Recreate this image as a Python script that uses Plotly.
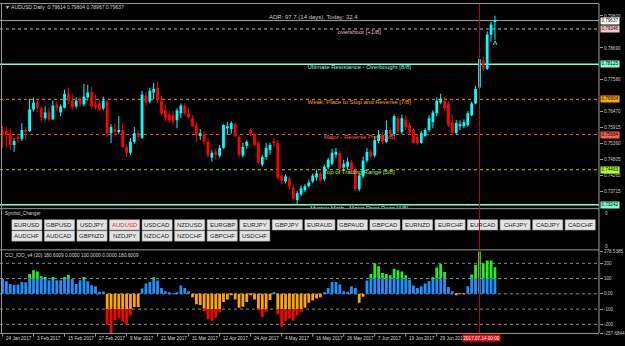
import plotly.graph_objects as go

# ---------------- data ----------------
opens = [0.7580, 0.7580, 0.7573, 0.7532, 0.7560, 0.7553, 0.7584, 0.7580, 0.7655, 0.7679,
         0.7659, 0.7625, 0.7645, 0.7621, 0.7673, 0.7645, 0.7662, 0.7710, 0.7686, 0.7666,
         0.7690, 0.7673, 0.7697, 0.7717, 0.7673, 0.7676, 0.7659, 0.7683, 0.7573, 0.7587,
         0.7577, 0.7584, 0.7525, 0.7505, 0.7543, 0.7573, 0.7556, 0.7703, 0.7683, 0.7714,
         0.7731, 0.7686, 0.7652, 0.7638, 0.7635, 0.7618, 0.7642, 0.7669, 0.7642, 0.7625,
         0.7601, 0.7563, 0.7570, 0.7543, 0.7488, 0.7508, 0.7495, 0.7522, 0.7590, 0.7587,
         0.7604, 0.7560, 0.7495, 0.7529, 0.7584, 0.7570, 0.7539, 0.7464, 0.7491, 0.7515,
         0.7546, 0.7539, 0.7426, 0.7406, 0.7416, 0.7385, 0.7341, 0.7361, 0.7375, 0.7389,
         0.7406, 0.7419, 0.7433, 0.7413, 0.7454, 0.7467, 0.7498, 0.7505, 0.7454, 0.7457,
         0.7474, 0.7447, 0.7378, 0.7423, 0.7478, 0.7508, 0.7495, 0.7546, 0.7567, 0.7543,
         0.7584, 0.7570, 0.7625, 0.7577, 0.7621, 0.7601, 0.7584, 0.7560, 0.7539, 0.7563,
         0.7584, 0.7611, 0.7642, 0.7679, 0.7686, 0.7676, 0.7611, 0.7573, 0.7597, 0.7597,
         0.7601, 0.7635, 0.7676, 0.7731, 0.7826, 0.7796, 0.7915, 0.79614]
highs = [0.7597, 0.7594, 0.7590, 0.7556, 0.7573, 0.7608, 0.7594, 0.7693, 0.7697, 0.7690,
         0.7669, 0.7666, 0.7662, 0.7686, 0.7683, 0.7673, 0.7724, 0.7731, 0.7710, 0.7697,
         0.7700, 0.7744, 0.7741, 0.7734, 0.7707, 0.7690, 0.7700, 0.7690, 0.7604, 0.7608,
         0.7632, 0.7608, 0.7532, 0.7556, 0.7594, 0.7584, 0.7720, 0.7717, 0.7731, 0.7748,
         0.7751, 0.7703, 0.7673, 0.7649, 0.7649, 0.7659, 0.7676, 0.7676, 0.7662, 0.7635,
         0.7611, 0.7587, 0.7580, 0.7556, 0.7515, 0.7519, 0.7532, 0.7604, 0.7611, 0.7614,
         0.7611, 0.7567, 0.7539, 0.7549, 0.7590, 0.7573, 0.7546, 0.7498, 0.7539, 0.7540,
         0.7556, 0.7549, 0.7433, 0.7430, 0.7423, 0.7392, 0.7372, 0.7392, 0.7396, 0.7412,
         0.7433, 0.7447, 0.7440, 0.7464, 0.7488, 0.7519, 0.7522, 0.7512, 0.7481, 0.7488,
         0.7481, 0.7457, 0.7433, 0.7491, 0.7522, 0.7519, 0.7563, 0.7584, 0.7577, 0.7618,
         0.7594, 0.7638, 0.7632, 0.7638, 0.7635, 0.7611, 0.7590, 0.7570, 0.7580, 0.7590,
         0.7635, 0.7652, 0.7697, 0.7710, 0.7700, 0.7683, 0.7638, 0.7618, 0.7618, 0.7621,
         0.7649, 0.7683, 0.7738, 0.7833, 0.7840, 0.7926, 0.7960, 0.79804]
lows = [0.7522, 0.7525, 0.7515, 0.7508, 0.7539, 0.7546, 0.7549, 0.7577, 0.7649, 0.7645,
        0.7611, 0.7618, 0.7614, 0.7618, 0.7649, 0.7632, 0.7659, 0.7673, 0.7652, 0.7659,
        0.7666, 0.7666, 0.7686, 0.7659, 0.7655, 0.7649, 0.7652, 0.7560, 0.7539, 0.7560,
        0.7570, 0.7522, 0.7491, 0.7498, 0.7536, 0.7546, 0.7553, 0.7669, 0.7676, 0.7690,
        0.7679, 0.7635, 0.7614, 0.7608, 0.7601, 0.7590, 0.7625, 0.7635, 0.7621, 0.7594,
        0.7543, 0.7549, 0.7532, 0.7488, 0.7474, 0.7481, 0.7488, 0.7519, 0.7567, 0.7570,
        0.7560, 0.7488, 0.7488, 0.7519, 0.7563, 0.7529, 0.7464, 0.7457, 0.7481, 0.7498,
        0.7525, 0.7412, 0.7395, 0.7399, 0.7378, 0.7339, 0.7324, 0.7354, 0.7368, 0.7385,
        0.7399, 0.7409, 0.7402, 0.7406, 0.7447, 0.7461, 0.7488, 0.7443, 0.7443, 0.7447,
        0.7437, 0.7372, 0.7372, 0.7416, 0.7471, 0.7481, 0.7488, 0.7539, 0.7536, 0.7539,
        0.7560, 0.7563, 0.7573, 0.7570, 0.7584, 0.7567, 0.7536, 0.7532, 0.7536, 0.7560,
        0.7577, 0.7590, 0.7632, 0.7673, 0.7652, 0.7594, 0.7567, 0.7567, 0.7584, 0.7590,
        0.7594, 0.7632, 0.7673, 0.7724, 0.7789, 0.7792, 0.7891, 0.78967]
closes = [0.7570, 0.7567, 0.7532, 0.7546, 0.7553, 0.7584, 0.7577, 0.7655, 0.7679, 0.7662,
          0.7628, 0.7645, 0.7621, 0.7669, 0.7659, 0.7666, 0.7710, 0.7686, 0.7662, 0.7686,
          0.7676, 0.7700, 0.7714, 0.7666, 0.7662, 0.7655, 0.7686, 0.7573, 0.7594, 0.7577,
          0.7584, 0.7525, 0.7505, 0.7543, 0.7573, 0.7560, 0.7707, 0.7679, 0.7720, 0.7727,
          0.7686, 0.7642, 0.7625, 0.7618, 0.7614, 0.7652, 0.7669, 0.7642, 0.7628, 0.7597,
          0.7567, 0.7573, 0.7543, 0.7495, 0.7505, 0.7498, 0.7522, 0.7601, 0.7597, 0.7608,
          0.7563, 0.7498, 0.7525, 0.7543, 0.7570, 0.7532, 0.7471, 0.7491, 0.7522, 0.7532,
          0.7539, 0.7419, 0.7409, 0.7423, 0.7389, 0.7345, 0.7365, 0.7382, 0.7389, 0.7402,
          0.7426, 0.7433, 0.7409, 0.7457, 0.7481, 0.7505, 0.7508, 0.7450, 0.7467, 0.7474,
          0.7447, 0.7378, 0.7426, 0.7478, 0.7508, 0.7491, 0.7549, 0.7567, 0.7543, 0.7584,
          0.7570, 0.7632, 0.7580, 0.7625, 0.7594, 0.7577, 0.7539, 0.7539, 0.7573, 0.7584,
          0.7625, 0.7645, 0.7686, 0.7693, 0.7659, 0.7601, 0.7573, 0.7608, 0.7604, 0.7611,
          0.7642, 0.7676, 0.7727, 0.7830, 0.7796, 0.7915, 0.7950, 0.79637]
cci = [97, 82, 65, 60, 60, 78, 76, 130, 154, 147,
       115, 110, 89, 110, 89, 89, 110, 125, 97, 65,
       89, 110, 82, 56, 50, 13, 15, -203, -257.6844, -173,
       -156, -182, -203, -139, -87, -87, 35, 67, 78, 108,
       87, 39, 17, 4, 3, 11, 54, 39, 17, -22,
       -69, -74, -112, -166, -177, -156, -123, -54, -37, -9,
       -37, -91, -84, -54, -6, -37, -106, -152, -117, -41,
       11, -134, -216, -177, -162, -177, -139, -119, -91, -58,
       -43, -30, -22, 6, 39, 78, 78, 61, 17, 13,
       50, 39, -58, -19, 87, 130, 201, 180, 136, 130,
       121, 165, 154, 147, 121, 93, 54, 39, 50, 67,
       82, 108, 173, 195, 143, 45, 17, -4, -2, -3,
       50, 126, 190, 278.5385, 201, 219, 219, 175]

date_idx = [0, 8, 16, 24, 32, 40, 48, 56, 64, 72, 80, 88, 96, 104, 112]
date_labels = ["24 Jan 2017", "3 Feb 2017", "15 Feb 2017", "27 Feb 2017", "9 Mar 2017",
               "21 Mar 2017", "31 Mar 2017", "12 Apr 2017", "24 Apr 2017", "4 May 2017",
               "16 May 2017", "26 May 2017", "7 Jun 2017", "19 Jun 2017", "29 Jun 2017"]
cursor_idx = 123
cursor_label = "2017.07.14 00:00"

price_ticks = [0.79800, 0.78690, 0.77580, 0.76470, 0.75915, 0.75360, 0.74805, 0.74265, 0.73715]
cci_ticks = [278.5385, 200, 100, 0, -100, -200, -257.6844]
cci_ticktext = ["278.5385", "200", "100", "0.00", "-100", "-200", "-257.6844"]
cci_levels = [200, 100, 0, -100, -200]

current_price = 0.79637
murrey_levels = [0.79346, 0.78125, 0.76904, 0.75684, 0.74463, 0.73242]
murrey_names = ["overshoot [+1/8]", "Ultimate Resistance - Overbought [8/8]",
                "Weak, Place to Stop and Reverse [7/8]", "Major - Reverse Pivot [6/8]",
                "Top of Trading Range [5/8]", "Murrey Math - Major Pivot Point [4/8]"]
murrey_line_colors = ["#CDB5B8", "#7FFFD4", "#FF8C00", "#F04A2A", "#9ACD32", "#7FFFD4"]
murrey_text_colors = ["#F2B8C6", "#7FFFD4", "#FFA500", "#FF6347", "#ADFF2F", "#7FFFD4"]
murrey_box_colors = ["#FFC0CB", "#7FFFD4", "#FFA500", "#FF6347", "#ADFF2F", "#7FFFD4"]
murrey_dash = ["dot", "solid", "dot", "dot", "dot", "solid"]

row1 = ["EURUSD", "GBPUSD", "USDJPY", "AUDUSD", "USDCAD", "NZDUSD", "EURGBP", "EURJPY", "GBPJPY",
        "EURAUD", "GBPAUD", "GBPCAD", "EURNZD", "EURCHF", "EURCAD", "CHFJPY", "CADJPY", "CADCHF"]
row2 = ["AUDCHF", "AUDCAD", "GBPNZD", "NZDJPY", "NZDCAD", "NZDCHF", "GBPCHF", "USDCHF"]
active_symbol = "AUDUSD"

title_text = "AUDUSD,Daily  0.79614 0.79804 0.78967 0.79637"
adr_text = "ADR: 97.7 (14 days), Today: 32.4"
cci_title = "CCI_IOO_v4 (20) 180.6009 0.0000 100.0000 0.0000 180.6009"

# ---------------- layout helpers ----------------
W, H = 625, 346
PW = 604  # plot area width in px
PX_PER_BAR = 3.91
X0_PX = 2.5
FONT = "Liberation Sans, Arial, sans-serif"


def px(xp):
    return xp / PW


def py(yp):
    return 1 - yp / H


PRICE_PER_PX = 0.000342
PRICE_AT_0 = 0.80282
main_top_px, main_bot_px = 2, 209
y_range = [PRICE_AT_0 - PRICE_PER_PX * main_bot_px, PRICE_AT_0 - PRICE_PER_PX * main_top_px]
x_range = [(0 - X0_PX) / PX_PER_BAR, (PW - X0_PX) / PX_PER_BAR]

idx = list(range(len(opens)))

fig = go.Figure()

# candle bodies
bases = [min(o, c) for o, c in zip(opens, closes)]
heights = [max(abs(c - o), 0.00008) for o, c in zip(opens, closes)]
body_colors = ["#00FFFF" if c >= o else "#FF0000" for o, c in zip(opens, closes)]

# wicks
wx_up, wy_up, wx_dn, wy_dn = [], [], [], []
for i, o, h, l, c in zip(idx, opens, highs, lows, closes):
    if c >= o:
        wx_up += [i, i, None]
        wy_up += [l, h, None]
    else:
        wx_dn += [i, i, None]
        wy_dn += [l, h, None]

fig.add_trace(go.Scatter(x=wx_up, y=wy_up, mode="lines", line=dict(color="#00FFFF", width=1),
                         xaxis="x", yaxis="y", hoverinfo="skip"))
fig.add_trace(go.Scatter(x=wx_dn, y=wy_dn, mode="lines", line=dict(color="#FF0000", width=1),
                         xaxis="x", yaxis="y", hoverinfo="skip"))
fig.add_trace(go.Bar(x=idx, y=heights, base=bases, width=0.72, marker=dict(color=body_colors, line=dict(width=0)),
                     xaxis="x", yaxis="y"))

# level labels (clipped to plot area)
label_x = [92] * len(murrey_levels)
label_y = [v - 0.0011 for v in murrey_levels]
label_y[-1] = murrey_levels[-1] - 0.00115
fig.add_trace(go.Scatter(x=label_x, y=label_y, mode="text", text=murrey_names,
                         textfont=dict(family=FONT, size=6, color=murrey_text_colors),
                         textposition="middle center", cliponaxis=True,
                         xaxis="x", yaxis="y", hoverinfo="skip"))

# CCI histogram
blue = [min(v, 100) if v > 0 else 0 for v in cci]
green = [v - 100 if v > 100 else 0 for v in cci]
orange = [max(v, -100) if v < 0 else 0 for v in cci]
red = [v + 100 if v < -100 else 0 for v in cci]
fig.add_trace(go.Bar(x=idx, y=blue, width=0.72, marker=dict(color="#1E90FF", line=dict(width=0)),
                     xaxis="x2", yaxis="y2"))
fig.add_trace(go.Bar(x=idx, y=green, base=[100] * len(cci), width=0.72,
                     marker=dict(color="#22EE22", line=dict(width=0)), xaxis="x2", yaxis="y2"))
fig.add_trace(go.Bar(x=idx, y=orange, width=0.72, marker=dict(color="#FFA500", line=dict(width=0)),
                     xaxis="x2", yaxis="y2"))
fig.add_trace(go.Bar(x=idx, y=red, base=[-100] * len(cci), width=0.72,
                     marker=dict(color="#FF0000", line=dict(width=0)), xaxis="x2", yaxis="y2"))

shapes = []
GRAY = "#9A9A9A"
# murrey lines
for v, col, d in zip(murrey_levels, murrey_line_colors, murrey_dash):
    shapes.append(dict(type="line", xref="paper", yref="y", x0=0, x1=1, y0=v, y1=v,
                       line=dict(color=col, width=1.5 if d == "solid" else 1, dash=d), layer="below"))
# current price line
shapes.append(dict(type="line", xref="paper", yref="y", x0=0, x1=1, y0=current_price, y1=current_price,
                   line=dict(color="#A8A8A8", width=1), layer="below"))
# CCI dotted levels
for v in cci_levels:
    shapes.append(dict(type="line", xref="paper", yref="y2", x0=0, x1=1, y0=v, y1=v,
                       line=dict(color="#8C8C8C", width=1, dash="dot"), layer="below"))
# frame lines
for (x0, y0, x1, y1) in [(1.5, 2, 1.5, 336), (0, 1.5, PW, 1.5), (PW, 1.5, PW, 336),
                         (0, 209.7, PW, 209.7), (0, 251.5, PW, 251.5), (0, 336.3, PW, 336.3)]:
    shapes.append(dict(type="line", xref="paper", yref="paper", x0=px(x0), x1=px(x1), y0=py(y0), y1=py(y1),
                       line=dict(color=GRAY, width=1)))
# buttons
annotations = []
for row, top in [(row1, 221.0), (row2, 232.3)]:
    for k, sym in enumerate(row):
        bx = 12 + k * 32.82
        shapes.append(dict(type="rect", xref="paper", yref="paper", x0=px(bx), x1=px(bx + 30.3),
                           y0=py(top + 10.3), y1=py(top), fillcolor="#E3E3E3",
                           line=dict(color="#B8B8B8", width=0.6)))
        annotations.append(dict(xref="paper", yref="paper", x=px(bx + 15.15), y=py(top + 5.3), text=sym,
                                showarrow=False, xanchor="center", yanchor="middle",
                                font=dict(family=FONT, size=6, color="#FF2020" if sym == active_symbol else "#1A1A1A")))
# date ticks
for d in date_idx:
    shapes.append(dict(type="line", xref="x2", yref="paper", x0=d, x1=d, y0=py(336.5), y1=py(339.5),
                       line=dict(color=GRAY, width=1)))
# red cursor line
shapes.append(dict(type="line", xref="x", yref="paper", x0=cursor_idx, x1=cursor_idx, y0=py(336), y1=py(2),
                   line=dict(color="#B01010", width=1)))

# texts
TXT = "#D8D8D8"
annotations.append(dict(xref="paper", yref="paper", x=px(3), y=py(5.2), text="▼ " + title_text,
                        showarrow=False, xanchor="left", yanchor="middle",
                        font=dict(family=FONT, size=5, color=TXT)))
annotations.append(dict(xref="paper", yref="paper", x=px(316), y=py(15.3), text=adr_text,
                        showarrow=False, xanchor="center", yanchor="middle",
                        font=dict(family=FONT, size=6, color="#C8C8C8")))
annotations.append(dict(xref="paper", yref="paper", x=px(499.5), y=py(41.5), text="Λ",
                        showarrow=False, xanchor="center", yanchor="middle",
                        font=dict(family="DejaVu Sans", size=6, color="#FFFFFF")))
annotations.append(dict(xref="paper", yref="paper", x=px(3), y=py(215), text="Symbol_Changer",
                        showarrow=False, xanchor="left", yanchor="middle",
                        font=dict(family=FONT, size=4.6, color=TXT)))
annotations.append(dict(xref="paper", yref="paper", x=px(3), y=py(257), text=cci_title,
                        showarrow=False, xanchor="left", yanchor="middle",
                        font=dict(family=FONT, size=4.8, color=TXT)))
for yy in (215, 248):
    annotations.append(dict(xref="paper", yref="paper", x=px(608), y=py(yy), text="0",
                            showarrow=False, xanchor="left", yanchor="middle",
                            font=dict(family=FONT, size=4.6, color=TXT)))
# right-side highlighted price boxes
boxes = [(current_price, "#FFFFFF")] + list(zip(murrey_levels, murrey_box_colors))
for v, bg in boxes:
    annotations.append(dict(xref="paper", yref="y", x=px(605.5), y=v, text=f"{v:.5f}",
                            showarrow=False, xanchor="left", yanchor="middle", bgcolor=bg,
                            borderpad=0.4, font=dict(family=FONT, size=4.6, color="#000000")))
# date labels
for d, t in zip(date_idx, date_labels):
    annotations.append(dict(xref="x2", yref="paper", x=d + 0.3, y=py(341.3), text=t,
                            showarrow=False, xanchor="left", yanchor="middle",
                            font=dict(family=FONT, size=4.6, color=TXT)))
annotations.append(dict(xref="x2", yref="paper", x=cursor_idx + 0.6, y=py(341.3), text=cursor_label,
                        showarrow=False, xanchor="center", yanchor="middle", bgcolor="#E01010",
                        borderpad=0.5, font=dict(family=FONT, size=4.6, color="#FFFFFF")))

fig.update_layout(
    width=W, height=H, autosize=False,
    margin=dict(l=0, r=W - PW, t=0, b=0, pad=0),
    paper_bgcolor="#000000", plot_bgcolor="#000000",
    showlegend=False, barmode="overlay", hovermode=False,
    xaxis=dict(domain=[0, 1], range=x_range, visible=False, fixedrange=True),
    yaxis=dict(domain=[py(main_bot_px), py(main_top_px)], range=y_range, side="right",
               tickvals=price_ticks, ticktext=[f"{v:.5f}" for v in price_ticks],
               ticks="outside", ticklen=3, tickcolor=GRAY, showgrid=False, zeroline=False,
               showline=False, tickfont=dict(family=FONT, size=4.6, color="#C8C8C8")),
    xaxis2=dict(domain=[0, 1], range=x_range, visible=False, anchor="y2", fixedrange=True),
    yaxis2=dict(domain=[py(336), py(253)], range=[-257.6844, 278.5385], side="right", anchor="x2",
                tickvals=cci_ticks, ticktext=cci_ticktext, ticks="outside", ticklen=3, tickcolor=GRAY,
                showgrid=False, zeroline=False, showline=False,
                tickfont=dict(family=FONT, size=4.6, color="#C8C8C8")),
    shapes=shapes, annotations=annotations,
)

fig.write_html("out.html")
